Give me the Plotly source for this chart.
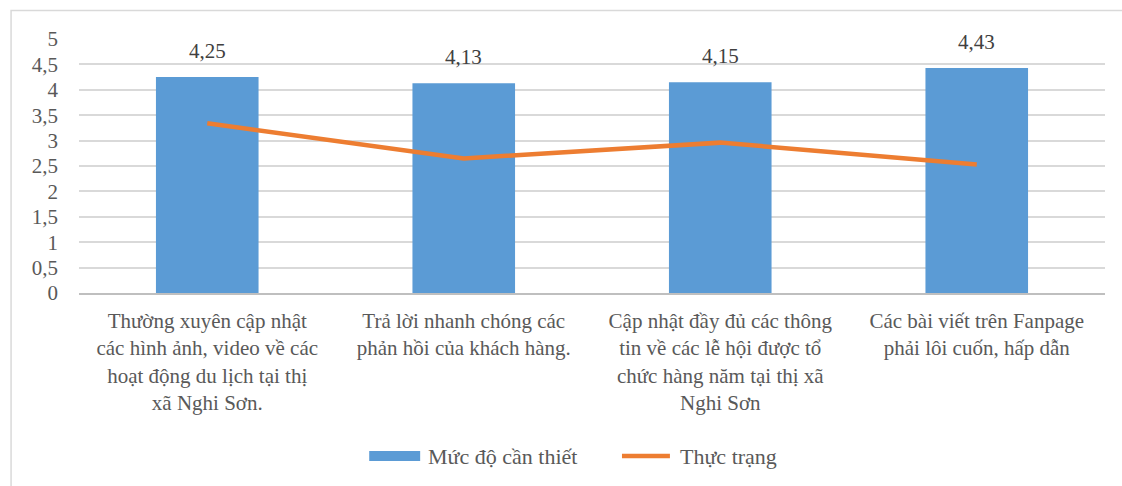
import plotly.graph_objects as go

# Survey items (categories) and the two series
categories = [
    "Thường xuyên cập nhật<br>các hình ảnh, video về các<br>hoạt động du lịch tại thị<br>xã Nghi Sơn.",
    "Trả lời nhanh chóng các<br>phản hồi của khách hàng.",
    "Cập nhật đầy đủ các thông<br>tin về các lễ hội được tổ<br>chức hàng năm tại thị xã<br>Nghi Sơn",
    "Các bài viết trên Fanpage<br>phải lôi cuốn, hấp dẫn",
]
series_names = ["Mức độ cần thiết", "Thực trạng"]
muc_do_can_thiet = [4.25, 4.13, 4.15, 4.43]
thuc_trang = [3.34, 2.65, 2.96, 2.53]
bar_labels = ["4,25", "4,13", "4,15", "4,43"]

y_ticks = [0, 0.5, 1, 1.5, 2, 2.5, 3, 3.5, 4, 4.5, 5]
y_tick_text = ["0", "0,5", "1", "1,5", "2", "2,5", "3", "3,5", "4", "4,5", "5"]

FONT = "Liberation Serif, Times New Roman, serif"
TXT = "#595959"
BLUE = "#5b9bd5"
ORANGE = "#ed7d31"

# plot-area geometry in pixels (for paper-coordinate conversions)
W, H = 1122, 486
ML, MR, MT, MB = 78.5, 16.5, 39, 193
PW, PH = W - ML - MR, H - MT - MB


def px_x(x):
    return (x - ML) / PW


def px_y(y):
    return (H - MB - y) / PH


fig = go.Figure()
fig.add_trace(go.Bar(
    x=categories, y=muc_do_can_thiet, name=series_names[0],
    marker=dict(color=BLUE, line=dict(width=0)),
))
fig.add_trace(go.Scatter(
    x=categories, y=thuc_trang, name=series_names[1], mode="lines",
    line=dict(color=ORANGE, width=4.5),
))

# value labels above the bars
for c, v, t in zip(categories, muc_do_can_thiet, bar_labels):
    fig.add_annotation(x=c, y=v, text=t, showarrow=False, yanchor="bottom",
                       yshift=12, font=dict(family=FONT, size=21, color="#404040"))

# outer chart frame
fig.add_shape(type="rect", xref="paper", yref="paper",
              x0=px_x(10.5), x1=px_x(1140), y0=px_y(520), y1=px_y(10.5),
              line=dict(color="#d9d9d9", width=1.5), layer="below")

# legend: blue swatch + label, orange line + label
fig.add_shape(type="rect", xref="paper", yref="paper",
              x0=px_x(369), x1=px_x(420), y0=px_y(461), y1=px_y(451),
              fillcolor=BLUE, line=dict(width=0))
fig.add_annotation(xref="paper", yref="paper", x=px_x(426), y=px_y(456),
                   xanchor="left", yanchor="middle", showarrow=False,
                   text=series_names[0], font=dict(family=FONT, size=22, color=TXT))
fig.add_shape(type="line", xref="paper", yref="paper",
              x0=px_x(622), x1=px_x(670), y0=px_y(456), y1=px_y(456),
              line=dict(color=ORANGE, width=4.5))
fig.add_annotation(xref="paper", yref="paper", x=px_x(678), y=px_y(456),
                   xanchor="left", yanchor="middle", showarrow=False,
                   text=series_names[1], font=dict(family=FONT, size=22, color=TXT))

fig.update_layout(
    width=W, height=H,
    margin=dict(l=ML, r=MR, t=MT, b=MB),
    paper_bgcolor="white", plot_bgcolor="white",
    bargap=0.6,
    font=dict(family=FONT, size=21, color=TXT),
    showlegend=False,
)
fig.update_xaxes(
    showgrid=False, showline=True, linecolor="#bfbfbf", linewidth=1.5,
    ticks="", tickfont=dict(family=FONT, size=21, color=TXT), tickangle=0,
    ticklabelstandoff=8,
)
fig.update_yaxes(
    range=[0, 5], tickvals=y_ticks, ticktext=y_tick_text,
    showgrid=True, gridcolor="#d9d9d9", gridwidth=1.5, zeroline=False,
    showline=False, ticks="", ticklabelstandoff=20,
    tickfont=dict(family=FONT, size=21, color=TXT),
)

fig.write_html("out.html")
